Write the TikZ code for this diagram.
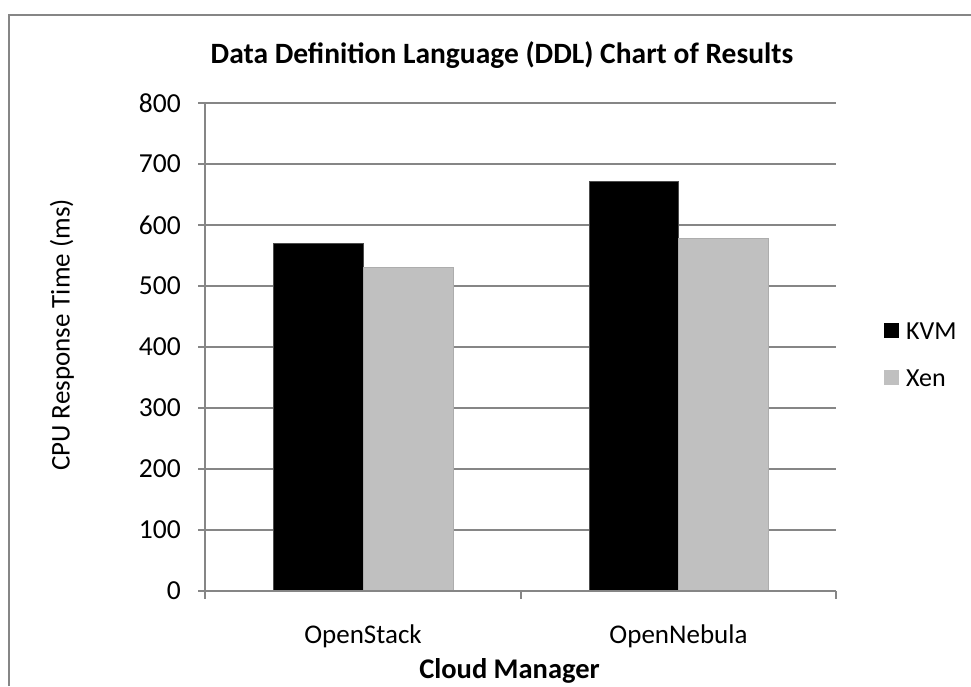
\documentclass[tikz,border=0pt]{standalone}
\usepackage{fontspec}
\setmainfont{Carlito}
\usepackage{xcolor}
\usetikzlibrary{positioning}

\definecolor{gridgray}{RGB}{134,134,134}
\definecolor{xengray}{RGB}{192,192,192}

\tikzset{
  gridline/.style={draw=gridgray, line width=2pt},
  ticklabel/.style={anchor=east, inner sep=0pt, font=\fontsize{27.5}{32}\selectfont},
  catlabel/.style={inner sep=0pt, font=\fontsize{27}{32}\selectfont},
  kvmbar/.style={fill=black, draw=black!70, line width=0.8pt},
  xenbar/.style={fill=xengray, draw=xengray!90!black, line width=0.8pt}
}

\begin{document}
\begin{tikzpicture}[x=1pt,y=-1pt]
\useasboundingbox (0,0) rectangle (971,686);
% outer chart frame (cut off at right and bottom)
\draw[gridline] (8.5,686) -- (8.5,15) -- (971,15);

% title
\node (title) at (502,55) [inner sep=0pt, font=\bfseries\fontsize{29.5}{34}\selectfont] {Data Definition Language (DDL) Chart of Results};

% gridlines and y ticks
\foreach \v in {100,200,...,800}
  \draw[gridline] (198,591-0.61*\v) -- (836,591-0.61*\v);
\foreach \v in {0,100,...,800}
  \node[ticklabel] (y\v) at (181,591-0.61*\v) {\v};

% bars
\draw[kvmbar] (273,591) rectangle (363,243.3);
\draw[xenbar] (363,591) rectangle (453,267.7);
\draw[kvmbar] (589,591) rectangle (678.5,181.1);
\draw[xenbar] (678.5,591) rectangle (768,238.4);

% axes
\draw[gridline] (205,103) -- (205,599);
\draw[gridline] (198,591) -- (836,591);
\draw[gridline] (520.5,591) -- (520.5,599);
\draw[gridline] (836,591) -- (836,599);

% category labels
\node[catlabel] (openstack) at (363,636) {OpenStack};
\node[catlabel] (opennebula) at (678.5,636) {OpenNebula};
\node (xlabel) at (509.5,671) [inner sep=0pt, font=\bfseries\fontsize{28.5}{32}\selectfont] {Cloud Manager};
\node (ylabel) at (62,335) [rotate=90, inner sep=0pt, font=\fontsize{27}{32}\selectfont] {CPU Response Time (ms)};

% legend
\fill[black] (884,323) rectangle (899,338);
\node (kvm) at (906,331) [anchor=west, inner sep=0pt, font=\fontsize{26}{30}\selectfont] {KVM};
\fill[xengray] (884,370) rectangle (899,385);
\node (xen) at (906,378) [anchor=west, inner sep=0pt, font=\fontsize{26}{30}\selectfont] {Xen};
\end{tikzpicture}
\end{document}
